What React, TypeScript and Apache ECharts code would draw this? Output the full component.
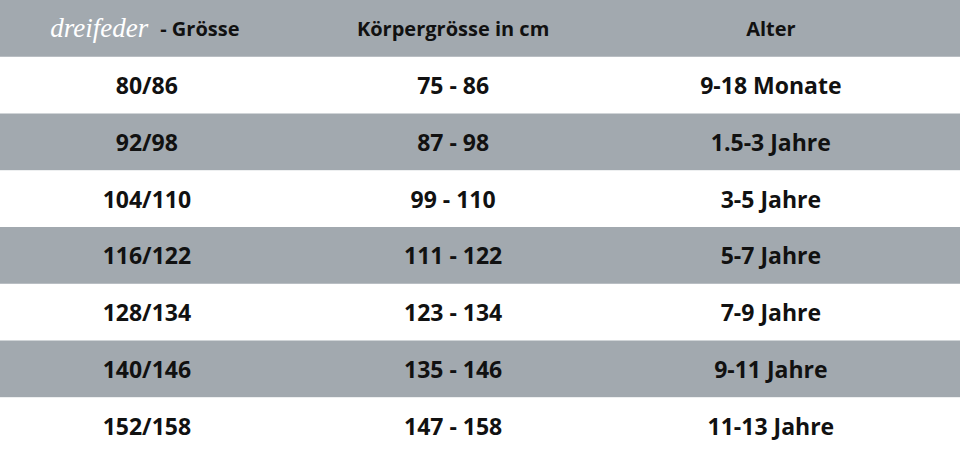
import React, { useEffect, useRef } from "react";
import * as echarts from "echarts";

// ---- data ----
const brand = "dreifeder";
const headers = ["- Grösse", "Körpergrösse in cm", "Alter"];
const sizes = ["80/86", "92/98", "104/110", "116/122", "128/134", "140/146", "152/158"];
const heights = ["75 - 86", "87 - 98", "99 - 110", "111 - 122", "123 - 134", "135 - 146", "147 - 158"];
const ages = ["9-18 Monate", "1.5-3 Jahre", "3-5 Jahre", "5-7 Jahre", "7-9 Jahre", "9-11 Jahre", "11-13 Jahre"];

// ---- layout / style ----
const colCenters = [0.153, 0.472, 0.803];
const GRAY = "#a2a9af";
const WHITE = "#ffffff";
const FONT = "'Open Sans', 'Noto Sans', sans-serif";

export default function App() {
  const ref = useRef<HTMLDivElement>(null);
  useEffect(() => {
    if (!ref.current) return;
    const chart = echarts.init(ref.current, undefined, { renderer: "svg" });
    const rowLabels = ["header", ...sizes];
    const rowsData = rowLabels.map((_, i) => [i]);

    const renderItem = (params: any, api: any) => {
      const row = api.value(0) as number;
      const left = api.coord([0, row]);
      const size = api.size([1, 1]);
      const w = size[0];
      const h = size[1];
      const cy = left[1];
      const bg = row % 2 === 0 ? GRAY : WHITE;
      const children: any[] = [
        {
          type: "rect",
          shape: { x: left[0], y: cy - h / 2, width: w, height: h + (row < rowLabels.length - 1 ? 0.6 : 0) },
          style: { fill: bg },
        },
      ];
      if (row === 0) {
        const x0 = api.coord([colCenters[0], row])[0];
        children.push({
          type: "text",
          style: {
            text: `{logo|${brand}}{gap| }{h|${headers[0]}}`,
            x: x0 - 2,
            y: cy,
            align: "center",
            verticalAlign: "middle",
            rich: {
              logo: {
                fontFamily: "'Liberation Serif', serif",
                fontStyle: "italic",
                fontSize: 27,
                fill: "#ffffff",
                color: "#ffffff",
              },
              gap: { fontSize: 20, width: 12 },
              h: {
                fontFamily: FONT,
                fontWeight: 700,
                fontSize: 20,
                fill: "#111111",
                color: "#111111",
              },
            },
          },
        });
        for (let c = 1; c < 3; c++) {
          const xc = api.coord([colCenters[c], row])[0];
          children.push({
            type: "text",
            style: {
              text: headers[c],
              x: xc,
              y: cy,
              align: "center",
              verticalAlign: "middle",
              fontFamily: FONT,
              fontWeight: 700,
              fontSize: 20,
              fill: "#111111",
            },
          });
        }
      } else {
        const vals = [sizes[row - 1], heights[row - 1], ages[row - 1]];
        for (let c = 0; c < 3; c++) {
          const xc = api.coord([colCenters[c], row])[0];
          children.push({
            type: "text",
            style: {
              text: vals[c],
              x: xc,
              y: cy,
              align: "center",
              verticalAlign: "middle",
              fontFamily: FONT,
              fontWeight: 700,
              fontSize: 23,
              fill: "#111111",
            },
          });
        }
      }
      return { type: "group", children };
    };

    chart.setOption({
      animation: false,
      backgroundColor: "#ffffff",
      grid: { left: 0, right: 0, top: 0, bottom: 0 },
      xAxis: { type: "value", min: 0, max: 1, show: false },
      yAxis: { type: "category", data: rowLabels, inverse: true, show: false },
      series: [
        {
          type: "custom",
          renderItem,
          data: rowsData,
          encode: { y: 0 },
          silent: true,
        },
      ],
    });
    return () => chart.dispose();
  }, []);
  return <div ref={ref} style={{ position: "absolute", left: 0, top: 0, width: 960, height: 454 }} />;
}
